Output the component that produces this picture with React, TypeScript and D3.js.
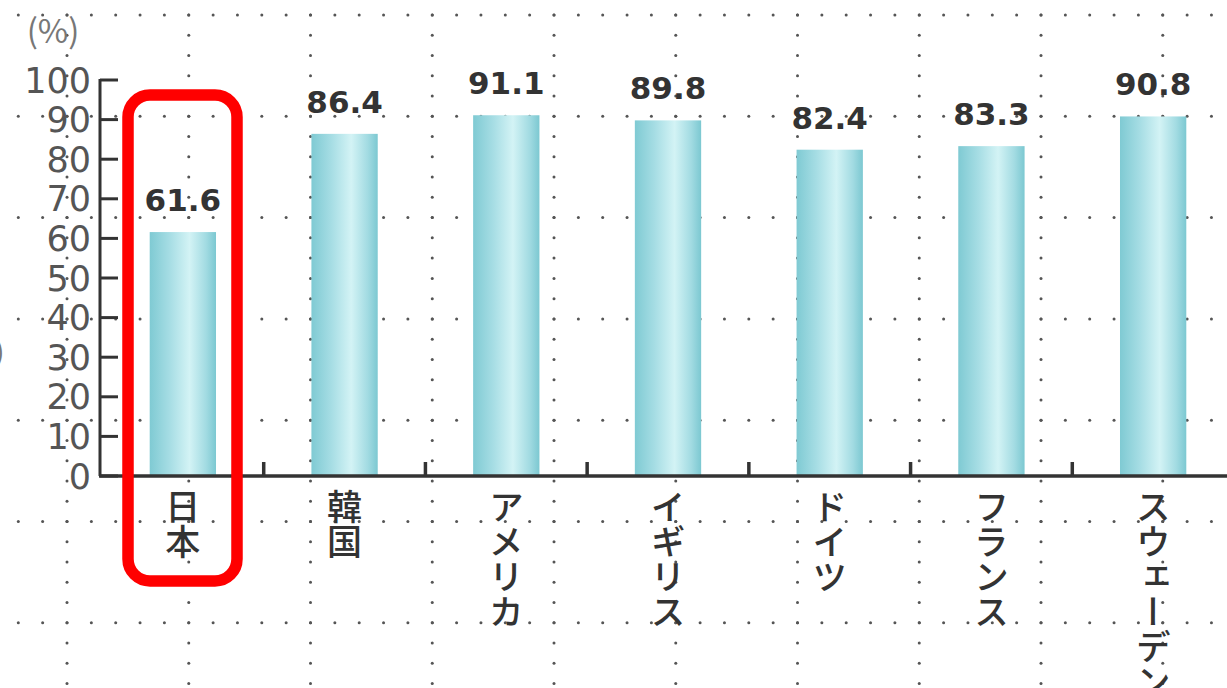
import * as d3 from 'd3';
import { type FC } from 'react';

const categories = ['日本', '韓国', 'アメリカ', 'イギリス', 'ドイツ', 'フランス', 'スウェーデン'];
const values = [61.6, 86.4, 91.1, 89.8, 82.4, 83.3, 90.8];
const yTicks = [0, 10, 20, 30, 40, 50, 60, 70, 80, 90, 100];

const width = 1227;
const height = 688;

const App: FC = () => {
  const x = d3
    .scaleBand<string>()
    .domain(categories)
    .range([102, 1234])
    .paddingInner(0.59)
    .paddingOuter(0.295);

  const y = d3.scaleLinear().domain([0, 100]).range([476, 80]);

  const step = x.step();
  const bw = x.bandwidth();

  // background dotted paper grid
  const colXs = d3.range(10).map((i) => 67 + i * 121.75);
  const rowYs = d3.range(7).map((i) => 15 + i * 101.3);
  const dots: [number, number][] = [];
  rowYs.forEach((ry) => {
    for (let cx = colXs[0] - (121.75 / 5) * 2; cx < width; cx += 121.75 / 5) dots.push([cx, ry]);
  });
  colXs.forEach((cx) => {
    for (let ry = rowYs[0]; ry < height; ry += 101.3 / 5) dots.push([cx, ry]);
  });

  const boundaries = categories.map((c) => (x(c) ?? 0) + bw / 2 + step / 2).slice(0, -1);

  const jp = '"Noto Sans CJK JP", "Noto Sans", sans-serif';
  const num = '"DejaVu Sans", sans-serif';

  return (
    <svg
      width={width}
      height={height}
      viewBox={`0 0 ${width} ${height}`}
      style={{ position: 'fixed', left: 0, top: 0, background: '#fff' }}
    >
      <defs>
        <linearGradient id='barGrad' x1='0' x2='1' y1='0' y2='0'>
          <stop offset='0%' stopColor='#7fcad3' />
          <stop offset='30%' stopColor='#a6dde4' />
          <stop offset='60%' stopColor='#d3f3f5' />
          <stop offset='85%' stopColor='#a2dbe2' />
          <stop offset='100%' stopColor='#7cc8d1' />
        </linearGradient>
      </defs>

      <g fill='#555'>
        {dots.map(([cx, cy], i) => (
          <circle key={i} cx={cx} cy={cy} r={1.5} />
        ))}
      </g>

      <text x={53} y={43} fontSize={33} fill='#777' fontFamily={jp} textAnchor='middle'>
        (%)
      </text>
      <text x={-5} y={362} fontSize={28} fill='#777' fontFamily={jp}>
        )
      </text>

      {categories.map((c, i) => (
        <rect
          key={c}
          x={x(c)}
          y={y(values[i])}
          width={bw}
          height={y(0) - y(values[i])}
          fill='url(#barGrad)'
        />
      ))}

      {categories.map((c, i) => (
        <text
          key={c}
          x={(x(c) ?? 0) + bw / 2}
          y={y(values[i]) - 21}
          textAnchor='middle'
          fontSize={31}
          fontWeight='bold'
          fill='#333'
          fontFamily={num}
        >
          {values[i].toFixed(1)}
        </text>
      ))}

      {/* y axis */}
      <line x1={100} x2={100} y1={y(100) - 1} y2={y(0)} stroke='#333' strokeWidth={3} />
      {yTicks.map((t) => (
        <g key={t}>
          <line x1={100} x2={118} y1={y(t)} y2={y(t)} stroke='#333' strokeWidth={3} />
          <text
            x={91}
            y={y(t)}
            dy='0.36em'
            textAnchor='end'
            fontSize={35}
            fill='#555'
            fontFamily={num}
          >
            {t}
          </text>
        </g>
      ))}

      {/* x axis */}
      <line x1={99} x2={width} y1={y(0)} y2={y(0)} stroke='#333' strokeWidth={3.5} />
      {boundaries.map((b, i) => (
        <line key={i} x1={b} x2={b} y1={y(0)} y2={y(0) - 14} stroke='#333' strokeWidth={3.5} />
      ))}

      {categories.map((c) => (
        <text
          key={c}
          x={(x(c) ?? 0) + bw / 2}
          y={489}
          fontSize={35}
          fontWeight={500}
          fill='#333'
          fontFamily={jp}
          style={{ writingMode: 'vertical-rl' }}
        >
          {c}
        </text>
      ))}

      <rect
        x={128}
        y={95}
        width={109}
        height={486}
        rx={22}
        ry={22}
        fill='none'
        stroke='#ff0000'
        strokeWidth={11.5}
      />
    </svg>
  );
};

export default App;
